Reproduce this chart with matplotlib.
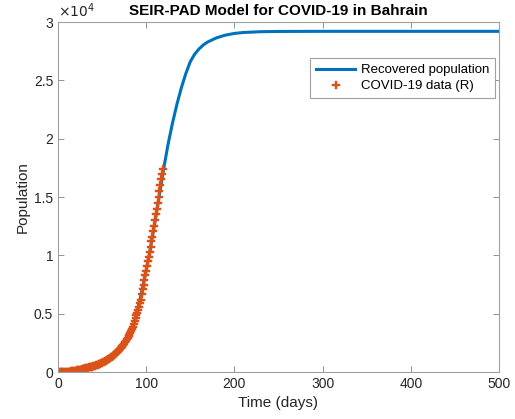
import numpy as np
import matplotlib
matplotlib.use('Agg')
import matplotlib.pyplot as plt
from matplotlib.ticker import FuncFormatter

plt.rcParams['font.family'] = ['Liberation Sans', 'DejaVu Sans']

# model curve (recovered population)
model_days = [0, 10, 20, 30, 40, 50, 60, 70, 75, 80, 85, 90, 95, 100, 105, 110,
              115, 120, 125, 130, 135, 140, 145, 150, 155, 160, 165, 170, 180,
              190, 200, 210, 230, 250, 300, 400, 500]
model_rec = [0, 40, 120, 260, 450, 720, 1100, 1700, 2200, 2900, 3900, 5200,
             6900, 8700, 10700, 12900, 15200, 17500, 19600, 21400, 23000,
             24400, 25600, 26600, 27250, 27700, 28050, 28300, 28650, 28880,
             29020, 29100, 29170, 29190, 29200, 29200, 29200]

# reported recovered cases (one value per day, day 0 .. 119)
data_rec = [
    0, 0, 0, 0, 0, 0, 0, 0, 0, 0,
    10, 15, 20, 25, 35, 45, 55, 65, 75, 90,
    100, 115, 130, 150, 170, 190, 210, 230, 250, 270,
    290, 310, 330, 350, 370, 390, 410, 430, 450, 470,
    490, 510, 540, 570, 600, 630, 660, 690, 720, 760,
    800, 840, 880, 920, 960, 1000, 1050, 1100, 1150, 1200,
    1260, 1320, 1380, 1440, 1500, 1570, 1640, 1710, 1790, 1870,
    1950, 2040, 2130, 2230, 2330, 2440, 2550, 2670, 2800, 2930,
    3070, 3210, 3360, 3520, 3680, 3850, 4100, 4350, 4600, 4850,
    5050, 5300, 5600, 5900, 6200, 6700, 7100, 7500, 7900, 8300,
    8700, 9100, 9500, 9900, 10300, 10700, 11200, 11600, 12100, 12500,
    13000, 13500, 14000, 14500, 15000, 15500, 16000, 16500, 17000, 17400,
]
data_days = np.arange(len(data_rec))

fig = plt.figure(figsize=(5.15, 4.19), dpi=100)
ax = fig.add_axes([58/515, 47/419, 441/515, 350/419])

ax.plot(model_days, model_rec, color='#0072BD', lw=2.2, label='Recovered population')
ax.plot(data_days, data_rec, ls='none', marker='P', ms=6, color='#D95319',
        mec='#D95319', mew=0.3, label='COVID-19 data (R)')

ax.set_xlim(0, 500)
ax.set_ylim(0, 30000)
ax.set_xticks([0, 100, 200, 300, 400, 500])
ax.set_yticks([0, 5000, 10000, 15000, 20000, 25000, 30000])
ax.yaxis.set_major_formatter(FuncFormatter(lambda v, p: f'{v/1e4:g}'))
ax.text(0.0, 1.005, r'$\times10^{4}$', transform=ax.transAxes, fontsize=10,
        color='#262626', ha='left', va='bottom')

for s in ax.spines.values():
    s.set_color('#A0A0A0')
    s.set_linewidth(0.8)
ax.tick_params(direction='in', top=True, right=True, length=4, width=0.6,
               color='#808080', labelsize=10, labelcolor='#262626')

ax.set_xlabel('Time (days)', fontsize=11, color='#262626', labelpad=4)
ax.set_ylabel('Population', fontsize=11, color='#262626', labelpad=3)
ax.set_title('SEIR-PAD Model for COVID-19 in Bahrain', fontsize=11,
             fontweight='bold', pad=5)

leg = ax.legend(loc='upper right', bbox_to_anchor=(0.991, 0.897), fontsize=9.5,
                fancybox=False, edgecolor='#A0A0A0', framealpha=1,
                handlelength=3.0, borderpad=0.45, labelspacing=0.3,
                handletextpad=0.4, numpoints=1, borderaxespad=0)
leg.get_frame().set_linewidth(0.8)

fig.savefig('out.png', dpi=100)
